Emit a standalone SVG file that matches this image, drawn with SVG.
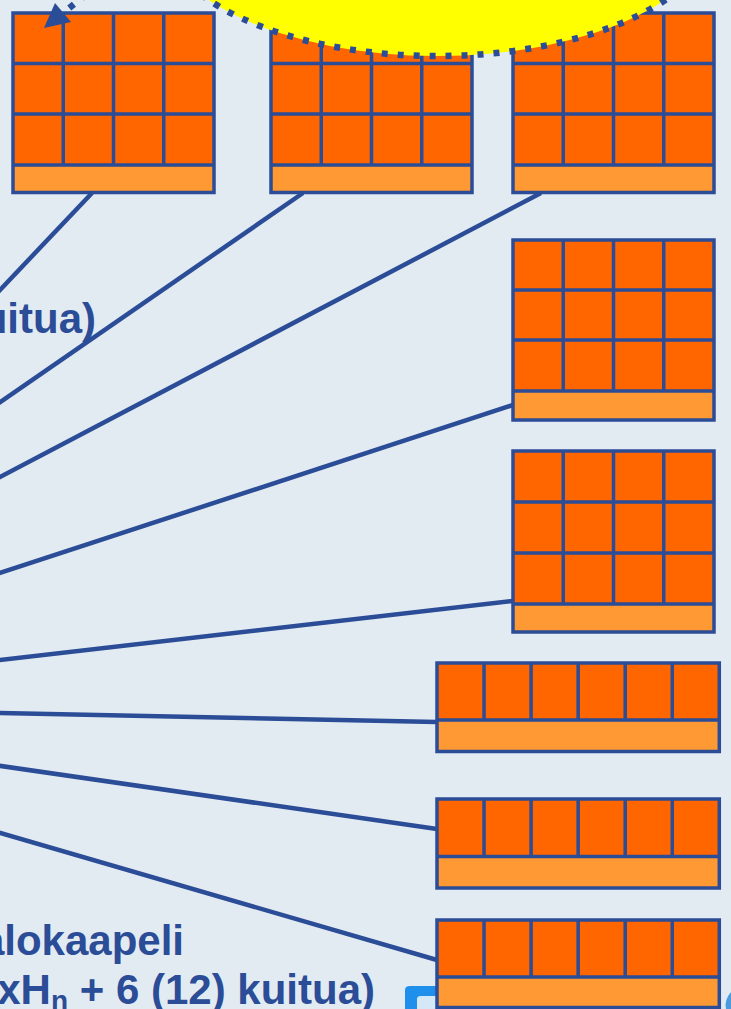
<svg xmlns="http://www.w3.org/2000/svg" width="731" height="1009" viewBox="0 0 731 1009">
<style>
.cell{fill:#FF6600}
.strip{fill:#FF9933}
.grid{fill:none;stroke:#2B4C96;stroke-width:3.5}
.wire{fill:none;stroke:#2B4C96;stroke-width:4.5}
.lbl{font-family:"Liberation Sans",Arial,sans-serif;font-weight:bold;font-size:42px;fill:#2B4C96}
</style>
<rect x="0" y="0" width="731" height="1009" fill="#E3EBF2"/>
<g id="connectors">
<line class="wire" x1="92" y1="193" x2="-20" y2="311"/>
<line class="wire" x1="303" y1="193" x2="-20" y2="416"/>
<line class="wire" x1="541" y1="193" x2="-20" y2="487.5"/>
<line class="wire" x1="513" y1="405" x2="-20" y2="579.5"/>
<line class="wire" x1="513" y1="601" x2="-20" y2="662.3"/>
<line class="wire" x1="437" y1="722" x2="-20" y2="712.6"/>
<line class="wire" x1="437" y1="829" x2="-20" y2="763"/>
<line class="wire" x1="437" y1="960" x2="-20" y2="827"/>
</g>
<g id="box1">
<rect class="cell" x="13" y="13" width="201" height="152"/>
<rect class="strip" x="13" y="165" width="201" height="27.5"/>
<path class="grid" d="M13 13H214V192.5H13Z M63.25 13V165 M113.5 13V165 M163.75 13V165 M13 63.5H214 M13 114H214 M13 165H214"/>
</g>
<g id="box2">
<rect class="cell" x="271" y="13" width="201" height="152"/>
<rect class="strip" x="271" y="165" width="201" height="27.5"/>
<path class="grid" d="M271 13H472V192.5H271Z M321.25 13V165 M371.5 13V165 M421.75 13V165 M271 63.5H472 M271 114H472 M271 165H472"/>
</g>
<g id="box3">
<rect class="cell" x="513" y="13" width="201" height="152"/>
<rect class="strip" x="513" y="165" width="201" height="27.5"/>
<path class="grid" d="M513 13H714V192.5H513Z M563.25 13V165 M613.5 13V165 M663.75 13V165 M513 63.5H714 M513 114H714 M513 165H714"/>
</g>
<g id="box4">
<rect class="cell" x="513" y="240" width="201" height="151"/>
<rect class="strip" x="513" y="391" width="201" height="29"/>
<path class="grid" d="M513 240H714V420H513Z M563.25 240V391 M613.5 240V391 M663.75 240V391 M513 290H714 M513 340H714 M513 391H714"/>
</g>
<g id="box5">
<rect class="cell" x="513" y="451" width="201" height="153"/>
<rect class="strip" x="513" y="604" width="201" height="28"/>
<path class="grid" d="M513 451H714V632H513Z M563.25 451V604 M613.5 451V604 M663.75 451V604 M513 502H714 M513 553H714 M513 604H714"/>
</g>
<g id="box6">
<rect class="cell" x="437" y="663" width="282.3" height="57"/>
<rect class="strip" x="437" y="720" width="282.3" height="31.5"/>
<path class="grid" d="M437 663H719.3V751.5H437Z M484.05 663V720 M531.1 663V720 M578.15 663V720 M625.2 663V720 M672.25 663V720 M437 720H719.3"/>
</g>
<g id="box7">
<rect class="cell" x="437" y="799" width="282.3" height="57.5"/>
<rect class="strip" x="437" y="856.5" width="282.3" height="31.5"/>
<path class="grid" d="M437 799H719.3V888H437Z M484.05 799V856.5 M531.1 799V856.5 M578.15 799V856.5 M625.2 799V856.5 M672.25 799V856.5 M437 856.5H719.3"/>
</g>
<g id="logo">
<path d="M405 1009V990Q405 986 410 986H437V1009Z" fill="#1E8FEA"/>
<path d="M417 1009V999Q417 996 421 996H437V1009Z" fill="#D5E8F8"/>
<path d="M731 992Q724 1000 726 1009H731Z" fill="#4A9BE0"/>
</g>
<g id="box8">
<rect class="cell" x="437" y="920" width="282.3" height="57"/>
<rect class="strip" x="437" y="977" width="282.3" height="30.5"/>
<path class="grid" d="M437 920H719.3V1007.5H437Z M484.05 920V977 M531.1 920V977 M578.15 920V977 M625.2 920V977 M672.25 920V977 M437 977H719.3"/>
</g>
<g id="sun">
<ellipse cx="437" cy="-77" rx="280" ry="133" fill="#FFFF00" stroke="#2B4C96" stroke-width="6.5" stroke-dasharray="6 10"/>
</g>
<g id="arrow">
<path d="M63 13L95 -12.6" fill="none" stroke="#2B4C96" stroke-width="6.5" stroke-dasharray="6 10" stroke-dashoffset="8"/>
<polygon points="55,3 44,28 71,22" fill="#2B4C96"/>
</g>
<g id="labels">
<text class="lbl" x="96" y="333" text-anchor="end">kuitua)</text>
<text class="lbl" x="184" y="955" text-anchor="end">Valokaapeli</text>
<text class="lbl" x="375" y="1004" text-anchor="end">xH<tspan font-size="28" dy="6">n</tspan><tspan dy="-6"> + 6 (12) kuitua)</tspan></text>
</g>
</svg>
